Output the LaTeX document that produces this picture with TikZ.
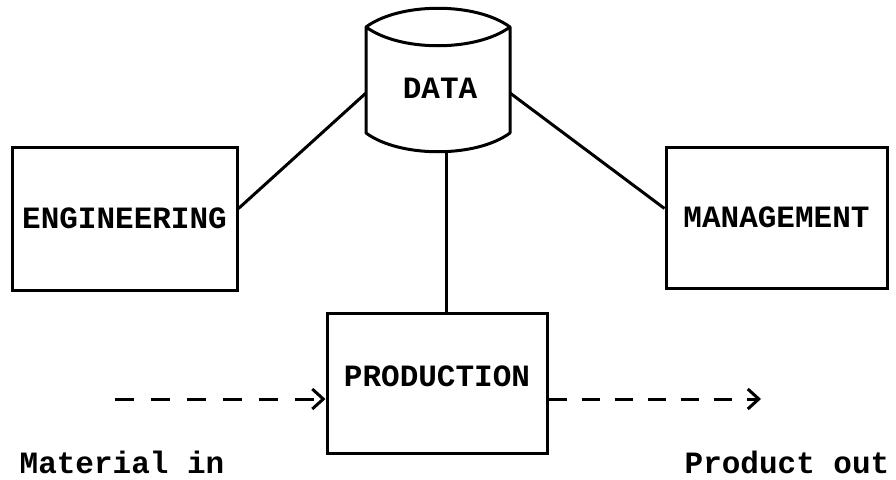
\documentclass[tikz,border=0pt]{standalone}
\usepackage{fontspec}
\setmainfont{Liberation Mono}
\usetikzlibrary{arrows.meta}
\tikzset{
  box/.style={draw, line width=3pt, rectangle, inner sep=0pt, anchor=center, font=\fontsize{31}{36}\selectfont\bfseries},
  lbl/.style={inner sep=0pt, anchor=center, font=\fontsize{31}{36}\selectfont\bfseries},
  link/.style={line width=3pt},
  flow/.style={line width=3pt, -{Straight Barb[length=11pt,width=20pt,line width=3pt]}}
}
\begin{document}
\begin{tikzpicture}[x=1pt,y=-1pt]
\useasboundingbox (0,0) rectangle (896,479);
% cylinder DATA
\draw[link, line join=round] (366,27) .. controls (400,2) and (476,2) .. (510,27)
  .. controls (476,52) and (400,52) .. (366,27) -- (366,133)
  .. controls (400,158) and (476,158) .. (510,133) -- (510,27);
\node[lbl] (data) at (440,88) {DATA};
\coordinate (dL) at (366,93);
\coordinate (dR) at (510,93);
\coordinate (dB) at (446,152);
% boxes
\node[box, minimum width=225pt, minimum height=143pt] (eng) at (124.5,218.5) {ENGINEERING};
\node[box, minimum width=221pt, minimum height=141pt] (man) at (776.5,217.5) {MANAGEMENT};
\node[box, minimum width=220pt, minimum height=140pt] (prod) at (437,383) {\raisebox{13pt}{PRODUCTION}};
% connectors
\draw[link] (dL) -- ([yshift=10pt]eng.east);
\draw[link] (dR) -- ([yshift=9pt]man.west);
\draw[link] (dB) -- (dB |- prod.north);
% flows
\coordinate (min) at (115,399);
\coordinate (pout) at (761,399);
\draw[flow, dash pattern=on 19pt off 17pt] (min) -- (min -| prod.west);
\draw[flow, dash pattern=on 18pt off 15pt] (pout -| prod.east) -- (pout);
\node[lbl] (mat) at (122,462) {Material in};
\node[lbl] (prd) at (787,462) {Product out};
\end{tikzpicture}
\end{document}
